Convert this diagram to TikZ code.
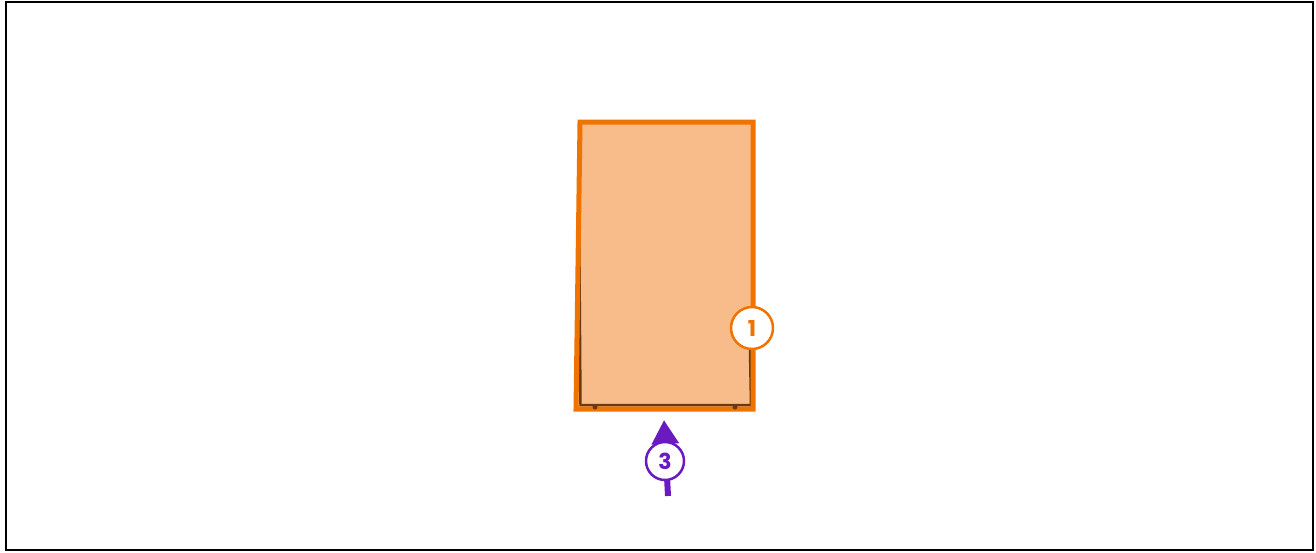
\documentclass[tikz,border=0pt]{standalone}
\usepackage{fontspec}
\setmainfont{Poppins}
\usepackage{xcolor}
\usetikzlibrary{arrows.meta,positioning,calc}

\definecolor{doororange}{HTML}{F07300}
\definecolor{doorfill}{HTML}{F7BC89}
\definecolor{doorbrown}{HTML}{6B3A10}
\definecolor{swingpurple}{HTML}{6A1BBF}

\begin{document}
\begin{tikzpicture}[
    x=1pt, y=-1pt,
    frame/.style={draw=black, line width=2pt},
    door/.style={draw=doororange, line width=5pt, line join=miter},
    edge/.style={draw=doorbrown, line width=2.5pt},
    hinge/.style={circle, fill=doorbrown, inner sep=0pt, minimum size=5pt},
    badge/.style={circle, draw=#1, fill=white, line width=2.5pt, minimum size=42pt, inner sep=0pt,
        text=#1, font=\bfseries\fontsize{22}{22}\selectfont},
    swing/.style={draw=swingpurple, line width=6pt, -{Triangle[length=24pt,width=26pt]}}
]
\useasboundingbox (0,0) rectangle (1316,552);

% Frame
\draw[frame] (6,2) rectangle (1313,550);

% Door leaf
\coordinate (tl) at (580,122);
\coordinate (tr) at (753,122);
\coordinate (br) at (753,409);
\coordinate (bl) at (576,409);
\fill[doorfill] (tl) -- (tr) -- (br) -- (bl) -- cycle;

% Inner edge and hinges
\draw[edge] (579,200) -- (580.5,405) -- (751,405) -- (750,350);
\draw[door] (tl) -- (tr) -- (br) -- (bl) -- cycle;
\node[hinge] (hingeL) at (595,407) {};
\node[hinge] (hingeR) at (735,407) {};

% Labels
\node[badge=doororange] (one) at (752,328) {1};

% Swing arrow
\coordinate (tail) at (668,496);
\coordinate (tip) at (664,420);
\draw[swing] (tail) -- (tip);
\node[badge=swingpurple, minimum size=38pt] (three) at (665,461) {3};

\end{tikzpicture}
\end{document}
